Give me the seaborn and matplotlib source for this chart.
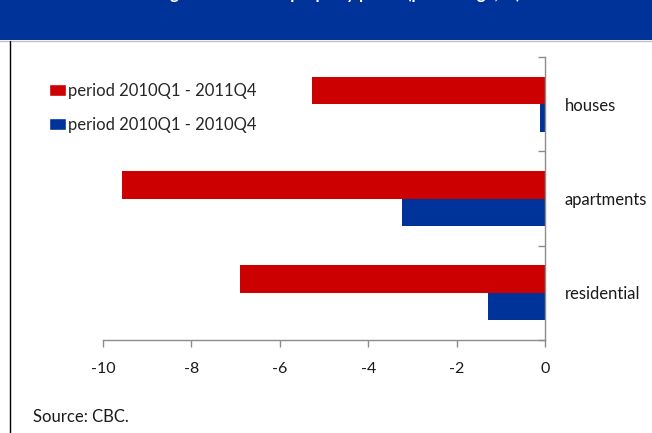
import matplotlib
matplotlib.use("Agg")
import matplotlib.pyplot as plt
import seaborn as sns
import pandas as pd
from matplotlib.patches import Rectangle
from matplotlib.lines import Line2D

categories = ["houses", "apartments", "residential"]
series_names = ["period 2010Q1 - 2011Q4", "period 2010Q1 - 2010Q4"]
values_2011 = [-5.27, -9.57, -6.9]
values_2010 = [-0.12, -3.24, -1.29]
xticks = [-10, -8, -6, -4, -2, 0]
title_text = "Change in residential property prices (percentage, %)"
source_text = "Source: CBC."

colors = {series_names[0]: "#CC0000", series_names[1]: "#003399"}

df = pd.DataFrame({
    "category": categories * 2,
    "series": [series_names[0]] * 3 + [series_names[1]] * 3,
    "value": values_2011 + values_2010,
})

sns.set_theme(style="white")
plt.rcParams["font.family"] = ["Lato", "DejaVu Sans"]

W, H = 652, 433
fig = plt.figure(figsize=(W / 100, H / 100), dpi=100)
ax = fig.add_axes([103 / W, 1 - 340 / H, (545 - 103) / W, (340 - 57) / H])

sns.barplot(data=df, y="category", x="value", hue="series", order=categories,
            hue_order=series_names, palette=colors, orient="h", width=0.58,
            saturation=1, ax=ax, legend=True)

for p in ax.patches:
    p.set_linewidth(0)

ax.set_xlim(-10, 0)
ax.set_ylim(2.5, -0.5)
ax.set_xticks(xticks)
ax.set_xticklabels([str(t) for t in xticks])
ax.set_xlabel("")
ax.set_ylabel("")

for s in ["top", "left"]:
    ax.spines[s].set_visible(False)
for s in ["right", "bottom"]:
    ax.spines[s].set_color("#8c8c8c")
    ax.spines[s].set_linewidth(1)

ax.yaxis.tick_right()
ax.set_yticks([0, 1, 2])
ax.set_yticklabels(categories)
ax.set_yticks([-0.5, 0.5, 1.5, 2.5], minor=True)
ax.tick_params(axis="y", which="major", length=0, pad=14, labelsize=12,
               labelcolor="#1a1a1a")
ax.tick_params(axis="y", which="minor", right=True, left=False, direction="in",
               length=5, width=1, color="#8c8c8c")
ax.tick_params(axis="x", which="major", bottom=True, direction="out", length=5,
               width=1, color="#8c8c8c", pad=11, labelsize=11.5,
               labelcolor="#1a1a1a")
for lbl in ax.get_yticklabels():
    lbl.set_clip_on(False)

leg = ax.get_legend()
handles = leg.legend_handles
leg.remove()
fig.legend(handles, series_names, loc="upper left",
           bbox_to_anchor=(42 / W, 1 - 76 / H), frameon=False,
           handlelength=1.05, handleheight=0.7, handletextpad=0.1,
           labelspacing=1.1, fontsize=12, borderaxespad=0)

# header band
fig.add_artist(Rectangle((0, 1 - 40 / H), 1, 40 / H, transform=fig.transFigure,
                         facecolor="#003399", edgecolor="none", zorder=0))
fig.add_artist(Line2D([0, 1], [1 - 41 / H, 1 - 41 / H], transform=fig.transFigure,
                      color="#c0c0c0", linewidth=1))
fig.text(0.5, 1 + 6 / H, title_text, ha="center", va="center", color="white",
         fontsize=12, fontweight="bold")
# left border line
fig.add_artist(Line2D([10 / W, 10 / W], [0, 1 - 41 / H], transform=fig.transFigure,
                      color="black", linewidth=1))

fig.text(33 / W, 1 - 417 / H, source_text, ha="left", va="center",
         fontsize=12, color="#1a1a1a")

fig.savefig("out.png", dpi=100)
